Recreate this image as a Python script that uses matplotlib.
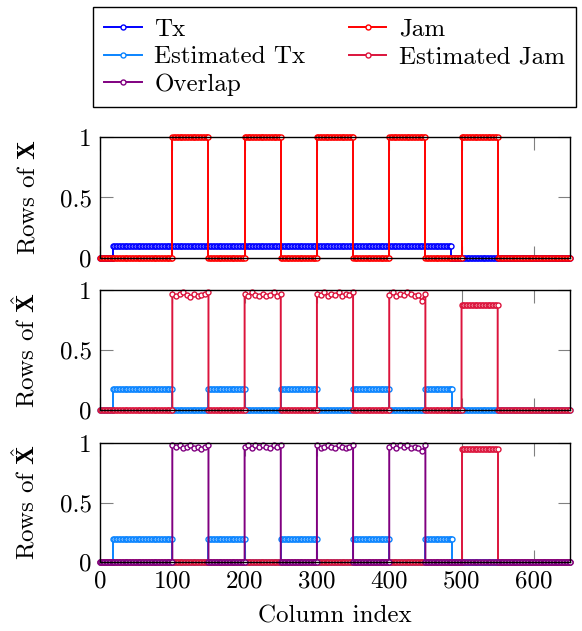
import numpy as np
import matplotlib.pyplot as plt

# --- data (column index vs row value) ---
x_ticks = [0, 100, 200, 300, 400, 500, 600]
y_ticks = [0, 0.5, 1]
y_ticklabels = ["0", "0.5", "1"]

# segments: (start column, end column, level or list of levels)
tx_segments = [(0, 18, 0.0), (18, 485, 0.1), (485, 650, 0.0)]
jam_segments = [(0, 100, 0.0), (100, 150, 1.0), (150, 200, 0.0), (200, 250, 1.0),
                (250, 300, 0.0), (300, 350, 1.0), (350, 400, 0.0), (400, 450, 1.0),
                (450, 500, 0.0), (500, 550, 1.0), (550, 650, 0.0)]

est_tx_level_2 = 0.175
est_tx_level_3 = 0.19
est_tx_blocks = [(18, 100), (150, 200), (250, 300), (350, 400), (450, 487)]

# noisy levels of the estimated jam blocks (panel 2)
est_jam_b1 = [0.97, 0.95, 0.97, 0.98, 0.96, 0.94, 0.97, 0.95, 0.96, 0.97, 0.98]
est_jam_b2 = [0.97, 0.95, 0.98, 0.96, 0.95, 0.97, 0.95, 0.96, 0.98, 0.95, 0.97]
est_jam_b3 = [0.97, 0.96, 0.98, 0.95, 0.97, 0.96, 0.98, 0.95, 0.97, 0.96, 0.98]
est_jam_b4 = [0.96, 0.98, 0.95, 0.97, 0.96, 0.98, 0.97, 0.95, 0.96, 0.91, 0.97]
est_jam_last = 0.875

# overlap blocks (panel 3)
ovl_b1 = [0.98, 0.97, 0.98, 0.96, 0.97, 0.98, 0.96, 0.97, 0.95, 0.97, 0.98]
ovl_b2 = [0.97, 0.98, 0.96, 0.98, 0.97, 0.98, 0.97, 0.96, 0.98, 0.97, 0.98]
ovl_b3 = [0.98, 0.96, 0.97, 0.98, 0.97, 0.96, 0.98, 0.97, 0.96, 0.97, 0.98]
ovl_b4 = [0.97, 0.98, 0.96, 0.98, 0.97, 0.98, 0.96, 0.97, 0.96, 0.93, 0.98]
est_jam_last_3 = 0.953

C_TX = "#0000ff"
C_JAM = "#ff0000"
C_ETX = "#0a84ff"
C_EJAM = "#dc143c"
C_OVL = "#800080"

STEP = 2


def build(segments):
    xs, ys = [], []
    for start, end, level in segments:
        if np.isscalar(level):
            x = np.append(np.arange(start, end, STEP), end)
            y = np.full(len(x), level)
        else:
            x = np.linspace(start, end, len(level))
            y = np.array(level)
        xs.append(x)
        ys.append(y)
    return np.concatenate(xs), np.concatenate(ys)


def est_tx_segments(level):
    segs = []
    prev = 0
    for a, b in est_tx_blocks:
        segs.append((prev, a, 0.0))
        segs.append((a, b, level))
        prev = b
    segs.append((prev, 650, 0.0))
    return segs


est_jam_segments_2 = [(0, 100, 0.0), (100, 150, est_jam_b1), (150, 200, 0.0),
                      (200, 250, est_jam_b2), (250, 300, 0.0), (300, 350, est_jam_b3),
                      (350, 400, 0.0), (400, 450, est_jam_b4), (450, 500, 0.0),
                      (500, 550, est_jam_last), (550, 650, 0.0)]
est_jam_segments_3 = [(0, 500, 0.0), (500, 550, est_jam_last_3), (550, 650, 0.0)]
ovl_segments = [(0, 100, 0.0), (100, 150, ovl_b1), (150, 200, 0.0),
                (200, 250, ovl_b2), (250, 300, 0.0), (300, 350, ovl_b3),
                (350, 400, 0.0), (400, 450, ovl_b4), (450, 650, 0.0)]

plt.rcParams["font.family"] = "serif"
plt.rcParams["font.serif"] = ["cmr10"]
plt.rcParams["mathtext.fontset"] = "cm"
plt.rcParams["axes.formatter.use_mathtext"] = True
plt.rcParams["font.size"] = 18

fig = plt.figure(figsize=(5.82, 6.31), dpi=100)
W, H = 582, 631


def add_ax(top, bottom):
    return fig.add_axes([100 / W, 1 - bottom / H, 470 / W, (bottom - top) / H])


ax1 = add_ax(137, 258)
ax2 = add_ax(290, 410)
ax3 = add_ax(443, 562)

style = dict(lw=1.4, marker="o", ms=3.6, mfc="white", mew=1.0, clip_on=False)

h_tx, = ax1.plot(*build(tx_segments), color=C_TX, label="Tx", **style)
h_jam, = ax1.plot(*build(jam_segments), color=C_JAM, label="Jam", **style)

h_etx, = ax2.plot(*build(est_tx_segments(est_tx_level_2)), color=C_ETX,
                  label="Estimated Tx", **style)
h_ejam, = ax2.plot(*build(est_jam_segments_2), color=C_EJAM,
                   label="Estimated Jam", **style)

ax3.plot(*build(est_tx_segments(est_tx_level_3)), color=C_ETX, **style)
ax3.plot(*build(est_jam_segments_3), color=C_EJAM, **style)
h_ovl, = ax3.plot(*build(ovl_segments), color=C_OVL, label="Overlap", **style)

ylabels = [r"Rows of $\mathbf{X}$", r"Rows of $\hat{\mathbf{X}}$",
           r"Rows of $\hat{\mathbf{X}}$"]
for ax, lab in zip([ax1, ax2, ax3], ylabels):
    ax.set_xlim(0, 650)
    ax.set_ylim(0, 1)
    ax.set_xticks(x_ticks)
    ax.set_yticks(y_ticks)
    ax.set_yticklabels(y_ticklabels)
    ax.tick_params(direction="in", length=9, width=0.8, color="grey",
                   top=True, right=True, pad=6)
    for sp in ax.spines.values():
        sp.set_linewidth(1.0)
    ax.set_ylabel(lab)
    ax.yaxis.set_label_coords(-0.128, 0.5)

ax1.tick_params(labelbottom=False)
ax2.tick_params(labelbottom=False)
ax3.set_xticklabels([str(t) for t in x_ticks])
ax3.set_xlabel("Column index", labelpad=9)

fig.legend(handles=[h_tx, h_etx, h_ovl, h_jam, h_ejam], ncol=2, loc="upper left",
           bbox_to_anchor=(93 / W, 1 - 7 / H, (576 - 93) / W, 0.0),
           mode="expand", frameon=True, fancybox=False, edgecolor="black",
           framealpha=1, handlelength=1.5, handletextpad=0.5, labelspacing=0.2,
           borderpad=0.45, borderaxespad=0.0, columnspacing=1.0)

fig.savefig("out.png", dpi=100)
